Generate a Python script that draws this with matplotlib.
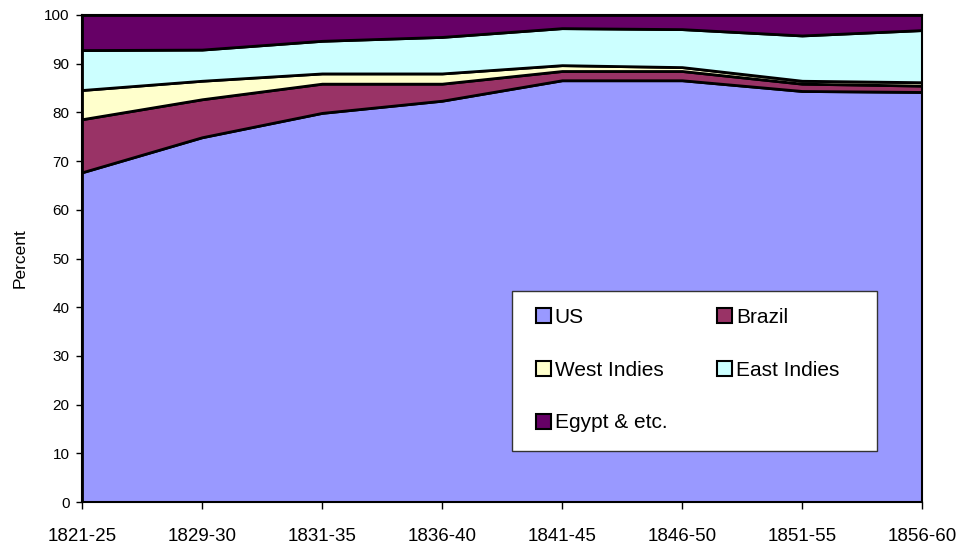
import numpy as np
import matplotlib
matplotlib.use('Agg')
import matplotlib.pyplot as plt
from matplotlib.patches import Patch, Rectangle

plt.rcParams['font.family'] = ['Liberation Sans', 'DejaVu Sans']

periods = ['1821-25', '1829-30', '1831-35', '1836-40', '1841-45', '1846-50', '1851-55', '1856-60']
us = [67.7, 74.9, 79.9, 82.4, 86.6, 86.6, 84.4, 84.2]
brazil = [10.9, 7.8, 6.0, 3.5, 1.9, 1.9, 1.5, 1.3]
west_indies = [6.0, 3.8, 2.1, 2.1, 1.2, 0.8, 0.6, 0.7]
east_indies = [8.2, 6.4, 6.7, 7.5, 7.6, 7.8, 9.3, 10.7]
egypt = [7.2, 7.1, 5.3, 4.5, 2.7, 2.9, 4.2, 3.1]

names = ['US', 'Brazil', 'West Indies', 'East Indies', 'Egypt & etc.']
colors = ['#9999FF', '#993366', '#FFFFCC', '#CCFFFF', '#660066']
series = [us, brazil, west_indies, east_indies, egypt]

W, H = 963, 544
fig = plt.figure(figsize=(W / 100, H / 100), dpi=100)
ax = fig.add_axes([82 / W, 42 / H, 840 / W, 487 / H])

x = np.arange(len(periods))
base = np.zeros(len(periods))
for vals, col, name in zip(series, colors, names):
    top = base + np.array(vals)
    ax.fill_between(x, base, top, facecolor=col, edgecolor='black', linewidth=2, label=name)
    base = top

ax.set_xlim(0, len(periods) - 1)
ax.set_ylim(0, 100)
ax.set_xticks(x)
ax.set_xticklabels(periods, fontsize=13.5)
ax.set_yticks(range(0, 101, 10))
ax.tick_params(axis='y', labelsize=11, length=4, width=1, pad=5)
ax.tick_params(axis='x', length=5, width=1, pad=14)
ax.set_ylabel('Percent', fontsize=12.5, labelpad=12)
for s in ax.spines.values():
    s.set_linewidth(1.5)

# legend box (white, thin grey border)
fig.patches.append(Rectangle((512 / W, 1 - 451 / H), 365 / W, 160 / H,
                             transform=fig.transFigure, facecolor='white',
                             edgecolor='#333333', linewidth=1, zorder=5))

# legend is filled row by row in the reference
order = [0, 2, 4, 1, 3]
handles = [Patch(facecolor=colors[i], edgecolor='black', linewidth=1.5) for i in order]
labels = [names[i] for i in order]
leg = fig.legend(handles, labels, loc='upper left',
                 bbox_to_anchor=(536 / W, 1 - 308 / H), ncol=2, fontsize=15,
                 frameon=False, handlelength=0.7, handleheight=0.7,
                 handletextpad=0.2, labelspacing=1.62, columnspacing=2.4,
                 borderpad=0, borderaxespad=0)
leg.set_zorder(6)

fig.savefig('out.png', dpi=100)
